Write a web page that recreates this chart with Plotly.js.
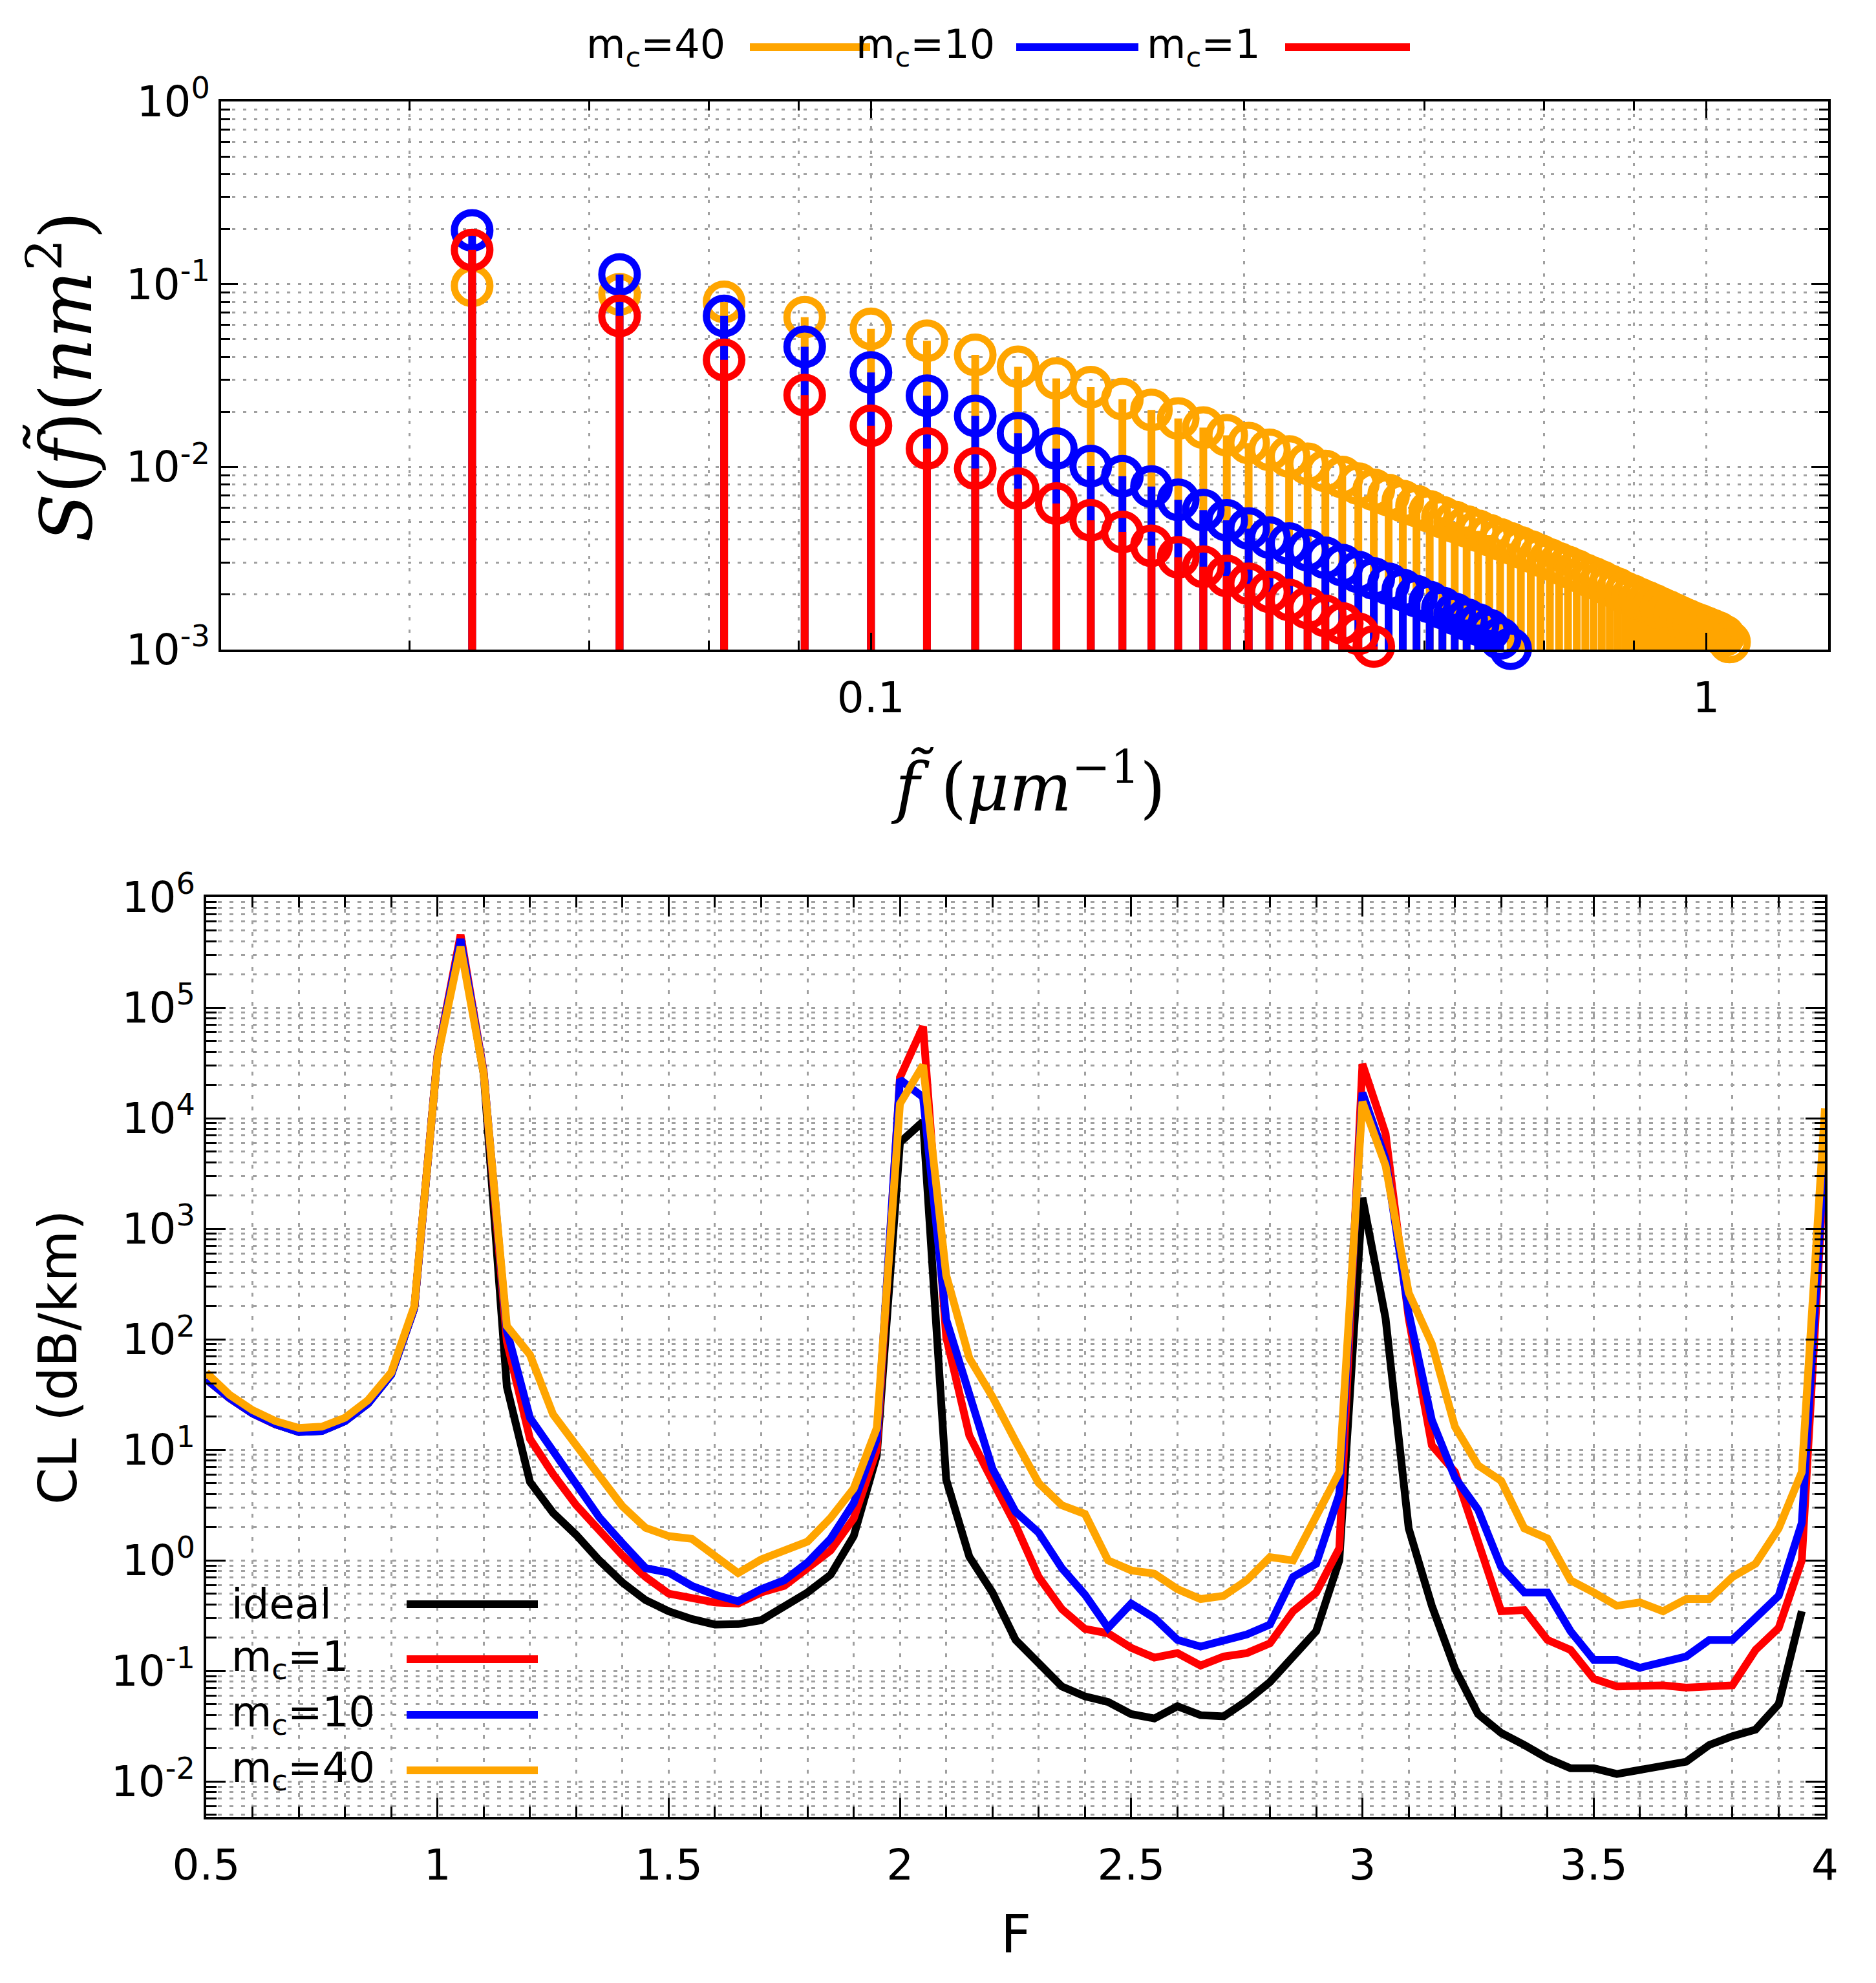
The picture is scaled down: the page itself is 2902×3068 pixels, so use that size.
<!DOCTYPE html>
<html>
<head>
<meta charset="utf-8">
<script src="https://cdn.plot.ly/plotly-3.0.1.min.js"></script>
<style>html,body{margin:0;padding:0;background:#fff;}</style>
</head>
<body>
<div id="chart" style="width:2902px;height:3068px;"></div>
<script>
"use strict";

// top panel: spectral density samples at f = n/60 (um^-1)
const freq = [0.0333, 0.0500, 0.0667, 0.0833, 0.1000, 0.1167, 0.1333, 0.1500, 0.1667, 0.1833,
    0.2000, 0.2167, 0.2333, 0.2500, 0.2667, 0.2833, 0.3000, 0.3167, 0.3333, 0.3500,
    0.3667, 0.3833, 0.4000, 0.4167, 0.4333, 0.4500, 0.4667, 0.4833, 0.5000, 0.5167,
    0.5333, 0.5500, 0.5667, 0.5833, 0.6000, 0.6167, 0.6333, 0.6500, 0.6667, 0.6833,
    0.7000, 0.7167, 0.7333, 0.7500, 0.7667, 0.7833, 0.8000, 0.8167, 0.8333, 0.8500,
    0.8667, 0.8833, 0.9000, 0.9167, 0.9333, 0.9500, 0.9667, 0.9833, 1.0000, 1.0167,
    1.0333, 1.0500, 1.0667, 1.0833];
const sMc40 = [0.098, 0.088, 0.080, 0.066, 0.057, 0.049, 0.041, 0.0353, 0.0305, 0.0273,
    0.0235, 0.0205, 0.0184, 0.0164, 0.0149, 0.0135, 0.0124, 0.0114, 0.0104, 0.0095,
    0.0088, 0.0081, 0.0075, 0.0070, 0.0065, 0.0061, 0.0057, 0.0053, 0.0050, 0.00472,
    0.00447, 0.00423, 0.00401, 0.00381, 0.00362, 0.00344, 0.00327, 0.00311, 0.00296, 0.00283,
    0.00270, 0.00257, 0.00246, 0.00235, 0.00224, 0.00215, 0.00205, 0.00197, 0.00189, 0.00182,
    0.00175, 0.00168, 0.00162, 0.00156, 0.00150, 0.00145, 0.00140, 0.00136, 0.00132, 0.00128,
    0.00124, 0.00119, 0.00110, 0.00097];
const sMc10 = [0.197, 0.113, 0.067, 0.0454, 0.0329, 0.0245, 0.0190, 0.0153, 0.0126, 0.0101,
    0.0089, 0.0078, 0.0066, 0.0058, 0.0051, 0.0046, 0.0041, 0.0038, 0.0035, 0.00318,
    0.00290, 0.00266, 0.00245, 0.00229, 0.00212, 0.00196, 0.00182, 0.00169, 0.00157, 0.00146,
    0.00137, 0.00128, 0.00115, 0.00101];
const sMc1 = [0.154, 0.067, 0.0385, 0.0247, 0.0168, 0.0126, 0.0098, 0.0076, 0.0063, 0.0051,
    0.0044, 0.0037, 0.0032, 0.00284, 0.00253, 0.00229, 0.00207, 0.00187, 0.00169, 0.00153,
    0.00139, 0.00122, 0.00104];

// bottom panel: confinement loss (dB/km) against F
const fNorm = [0.50, 0.55, 0.60, 0.65, 0.70, 0.75, 0.80, 0.85, 0.90, 0.95,
    1.00, 1.05, 1.10, 1.15, 1.20, 1.25, 1.30, 1.35, 1.40, 1.45,
    1.50, 1.55, 1.60, 1.65, 1.70, 1.75, 1.80, 1.85, 1.90, 1.95,
    2.00, 2.05, 2.10, 2.15, 2.20, 2.25, 2.30, 2.35, 2.40, 2.45,
    2.50, 2.55, 2.60, 2.65, 2.70, 2.75, 2.80, 2.85, 2.90, 2.95,
    3.00, 3.05, 3.10, 3.15, 3.20, 3.25, 3.30, 3.35, 3.40, 3.45,
    3.50, 3.55, 3.60, 3.65, 3.70, 3.75, 3.80, 3.85, 3.90, 3.95,
    4.00];
const clIdeal = [43.6, 29.5, 21.4, 17.0, 14.5, 14.8, 18.2, 26.3, 47.9, 191,
    36300, 398000, 25100, 37.2, 5.13, 2.69, 1.70, 1.00, 0.631, 0.437,
    0.347, 0.295, 0.263, 0.265, 0.288, 0.380, 0.513, 0.741, 1.66, 8.91,
    6030, 9330, 5.37, 1.08, 0.513, 0.191, 0.120, 0.0724, 0.0589, 0.0525,
    0.0407, 0.0372, 0.0479, 0.0398, 0.0389, 0.0537, 0.0794, 0.135, 0.229, 1.00,
    1905, 155, 1.95, 0.389, 0.105, 0.0407, 0.0275, 0.0214, 0.0162, 0.0132,
    0.0132, 0.0117, 0.0126, 0.0141, 0.0151, 0.0214, 0.0257, 0.0295, 0.0501, 0.347];
const clMc1 = [43.6, 29.5, 21.4, 17.0, 14.8, 15.1, 18.6, 26.9, 49.0, 191,
    37200, 457000, 26300, 95.5, 12.6, 6.03, 3.16, 1.86, 1.11, 0.708,
    0.501, 0.457, 0.417, 0.407, 0.513, 0.589, 0.851, 1.23, 2.40, 10.0,
    23400, 67600, 105, 13.5, 5.25, 2.09, 0.708, 0.363, 0.240, 0.219,
    0.162, 0.132, 0.145, 0.112, 0.135, 0.145, 0.178, 0.347, 0.513, 1.29,
    30900, 7240, 155, 11.0, 6.31, 1.48, 0.347, 0.355, 0.191, 0.155,
    0.0851, 0.0724, 0.0724, 0.0741, 0.0708, 0.0724, 0.0741, 0.155, 0.245, 1.00,
    4790];
const clMc10 = [43.6, 29.5, 21.4, 17.0, 14.5, 14.8, 18.2, 26.3, 47.9, 191,
    36300, 417000, 25700, 120, 19.5, 9.77, 4.57, 2.45, 1.43, 0.851,
    0.776, 0.589, 0.490, 0.427, 0.550, 0.661, 0.955, 1.57, 3.31, 12.6,
    22400, 15500, 151, 30.2, 6.76, 2.75, 1.78, 0.851, 0.490, 0.245,
    0.407, 0.302, 0.191, 0.166, 0.191, 0.214, 0.263, 0.708, 0.933, 3.98,
    17000, 4270, 174, 18.6, 5.62, 2.88, 0.871, 0.513, 0.513, 0.229,
    0.126, 0.126, 0.107, 0.120, 0.135, 0.191, 0.191, 0.302, 0.479, 2.19,
    5620];
const clMc40 = [50.1, 31.6, 22.9, 18.2, 15.8, 16.2, 19.5, 28.2, 50.1, 200,
    35500, 355000, 25100, 132, 72.4, 20.9, 11.0, 5.89, 3.09, 1.97,
    1.66, 1.57, 1.08, 0.767, 1.02, 1.23, 1.48, 2.42, 4.47, 15.8,
    13500, 30200, 380, 67.6, 30.2, 12.0, 5.01, 3.16, 2.63, 1.00,
    0.813, 0.759, 0.550, 0.447, 0.479, 0.661, 1.07, 1.00, 2.51, 6.31,
    14100, 3720, 263, 91.2, 16.2, 7.24, 5.25, 1.95, 1.58, 0.661,
    0.513, 0.389, 0.417, 0.347, 0.447, 0.447, 0.708, 0.933, 1.95, 6.31,
    12300];

const topYExps = [-3, -2, -1, 0];
const bottomYExps = [-2, -1, 0, 1, 2, 3, 4, 5, 6];
const topXTicks = [0.1, 1];
const topXTickText = ['0.1', '1'];
const topXMinor = [0.028, 0.046, 0.064, 0.082, 0.28, 0.46, 0.64, 0.82];

const ORANGE = '#ffa500';
const BLUE = '#0000ff';
const RED = '#ff0000';
const BLACK = '#000000';

const W = 2902, H = 3068;
function px(x) { return x / W; }
function py(y) { return 1 - y / H; }

function decadeMinors(lo, hi) {
    const v = [];
    for (let e = lo; e < hi; e++) {
        for (let k = 2; k <= 9; k++) v.push(k * Math.pow(10, e));
    }
    return v;
}

function stemTrace(x, y, color) {
    const sx = [], sy = [];
    for (let i = 0; i < y.length; i++) {
        sx.push(x[i], x[i], null);
        sy.push(1e-3, y[i], null);
    }
    return { x: sx, y: sy, type: 'scatter', mode: 'lines', xaxis: 'x', yaxis: 'y',
        line: { color: color, width: 12 }, hoverinfo: 'skip' };
}
function circleTrace(x, y, color) {
    return { x: x.slice(0, y.length), y: y, type: 'scatter', mode: 'markers', xaxis: 'x', yaxis: 'y',
        cliponaxis: false,
        marker: { symbol: 'circle-open', size: 55, color: color, line: { width: 11, color: color } } };
}
function lossTrace(y, color) {
    return { x: fNorm.slice(0, y.length), y: y, type: 'scatter', mode: 'lines', xaxis: 'x2', yaxis: 'y2',
        line: { color: color, width: 12 } };
}

const traces = [
    stemTrace(freq, sMc40, ORANGE), circleTrace(freq, sMc40, ORANGE),
    stemTrace(freq, sMc10, BLUE), circleTrace(freq, sMc10, BLUE),
    stemTrace(freq, sMc1, RED), circleTrace(freq, sMc1, RED),
    lossTrace(clIdeal, BLACK), lossTrace(clMc1, RED),
    lossTrace(clMc10, BLUE), lossTrace(clMc40, ORANGE)
];

const GRID = '#a0a0a0';
const tickFont = { family: 'DejaVu Sans', size: 66, color: '#000' };
function frameAxis(extra) {
    return Object.assign({
        showline: true, linecolor: '#000', linewidth: 4, mirror: 'allticks',
        ticks: 'inside', tickcolor: '#000', tickwidth: 3,
        showgrid: true, gridcolor: GRID, gridwidth: 3,
        zeroline: false, tickfont: tickFont, fixedrange: true
    }, extra);
}
function minorGrid(extra) {
    return Object.assign({ ticks: 'inside', tickcolor: '#000', tickwidth: 3,
        showgrid: true, gridcolor: GRID, gridwidth: 3 }, extra);
}
function powLabels(exps) { return exps.map(e => '10<sup>' + e + '</sup>'); }
function powVals(exps) { return exps.map(e => Math.pow(10, e)); }

const layout = {
    width: W, height: H,
    margin: { l: 0, r: 0, t: 0, b: 0 },
    paper_bgcolor: '#fff', plot_bgcolor: '#fff',
    showlegend: false,
    xaxis: frameAxis({
        type: 'log', anchor: 'y', domain: [px(342), px(2828)],
        range: [Math.log10(1 / 60), Math.log10(1.4)],
        tickmode: 'array', tickvals: topXTicks, ticktext: topXTickText, ticklen: 26,
        ticklabelstandoff: 14,
        griddash: '5px,14px',
        minor: minorGrid({ tickmode: 'array', tickvals: topXMinor, ticklen: 14, griddash: '5px,14px' })
    }),
    yaxis: frameAxis({
        type: 'log', anchor: 'x', domain: [py(1005), py(157)], range: [-3, 0],
        tickmode: 'array', tickvals: powVals(topYExps), ticktext: powLabels(topYExps), ticklen: 26,
        griddash: '5px,12px',
        minor: minorGrid({ tickmode: 'array', tickvals: decadeMinors(-3, 0), ticklen: 14, griddash: '5px,12px' })
    }),
    xaxis2: frameAxis({
        anchor: 'y2', domain: [px(319), px(2823)], range: [0.5, 4],
        tickmode: 'linear', tick0: 0.5, dtick: 0.5, ticklen: 30,
        ticklabelstandoff: 14,
        griddash: '6px,12px',
        minor: minorGrid({ dtick: 0.1, ticklen: 16, griddash: '6px,12px' })
    }),
    yaxis2: frameAxis({
        type: 'log', anchor: 'x2', domain: [py(2811), py(1388)], range: [-2.32, 6],
        tickmode: 'array', tickvals: powVals(bottomYExps), ticktext: powLabels(bottomYExps), ticklen: 30,
        griddash: '6px,12px',
        minor: minorGrid({ tickmode: 'array', tickvals: decadeMinors(-3, 6), ticklen: 16, griddash: '6px,12px' })
    }),
    shapes: [],
    annotations: []
};

// axis titles, anchored on their centres
function label(x, y, text, font, angle) {
    return { xref: 'paper', yref: 'paper', x: px(x), y: py(y), xanchor: 'center', yanchor: 'middle',
        textangle: angle || 0, showarrow: false, text: text, font: font };
}
const mathFont = { family: 'DejaVu Serif', size: 102, color: '#000' };
const sansTitle = { family: 'DejaVu Sans', size: 82, color: '#000' };
layout.annotations.push(
    label(95, 583, '<i>S</i>(<i>f\u0303</i>)(<i>nm</i><sup>2</sup>)',
        { family: 'DejaVu Serif', size: 110, color: '#000' }, -90),
    label(1590, 1212, '<i>f\u0303</i> (<i>\u03bcm</i><sup>\u22121</sup>)', mathFont),
    label(89, 2100, 'CL (dB/km)', sansTitle, -90),
    label(1571, 2992, 'F', sansTitle)
);

// key of the top panel: text, then sample line
const topKey = [
    { text: 'm<sub>c</sub>=40', color: ORANGE, right: 1124, x0: 1160, x1: 1346 },
    { text: 'm<sub>c</sub>=10', color: BLUE, right: 1541, x0: 1572, x1: 1761 },
    { text: 'm<sub>c</sub>=1', color: RED, right: 1952, x0: 1988, x1: 2181 }
];
topKey.forEach(k => {
    layout.annotations.push({ xref: 'paper', yref: 'paper', x: px(k.right), y: py(73),
        xanchor: 'right', yanchor: 'middle', showarrow: false, text: k.text,
        font: { family: 'DejaVu Sans', size: 62, color: '#000' } });
    layout.shapes.push({ type: 'line', xref: 'paper', yref: 'paper',
        x0: px(k.x0), x1: px(k.x1), y0: py(73), y1: py(73), line: { color: k.color, width: 12 } });
});

// key of the bottom panel, on a white box over the grid
layout.shapes.push({ type: 'rect', xref: 'paper', yref: 'paper', layer: 'between',
    x0: px(323), x1: px(857), y0: py(2800), y1: py(2440), fillcolor: '#fff', line: { width: 0 } });
const bottomKey = [
    { text: 'ideal', color: BLACK, y: 2482 },
    { text: 'm<sub>c</sub>=1', color: RED, y: 2567 },
    { text: 'm<sub>c</sub>=10', color: BLUE, y: 2653 },
    { text: 'm<sub>c</sub>=40', color: ORANGE, y: 2739 }
];
bottomKey.forEach(k => {
    layout.annotations.push({ xref: 'paper', yref: 'paper', x: px(356), y: py(k.y),
        xanchor: 'left', yanchor: 'middle', showarrow: false, text: k.text,
        font: { family: 'DejaVu Sans', size: 64, color: '#000' } });
    layout.shapes.push({ type: 'line', xref: 'paper', yref: 'paper',
        x0: px(629), x1: px(832), y0: py(k.y), y1: py(k.y), line: { color: k.color, width: 12 } });
});

Plotly.newPlot('chart', traces, layout, { displayModeBar: false, staticPlot: true });
</script>
</body>
</html>
